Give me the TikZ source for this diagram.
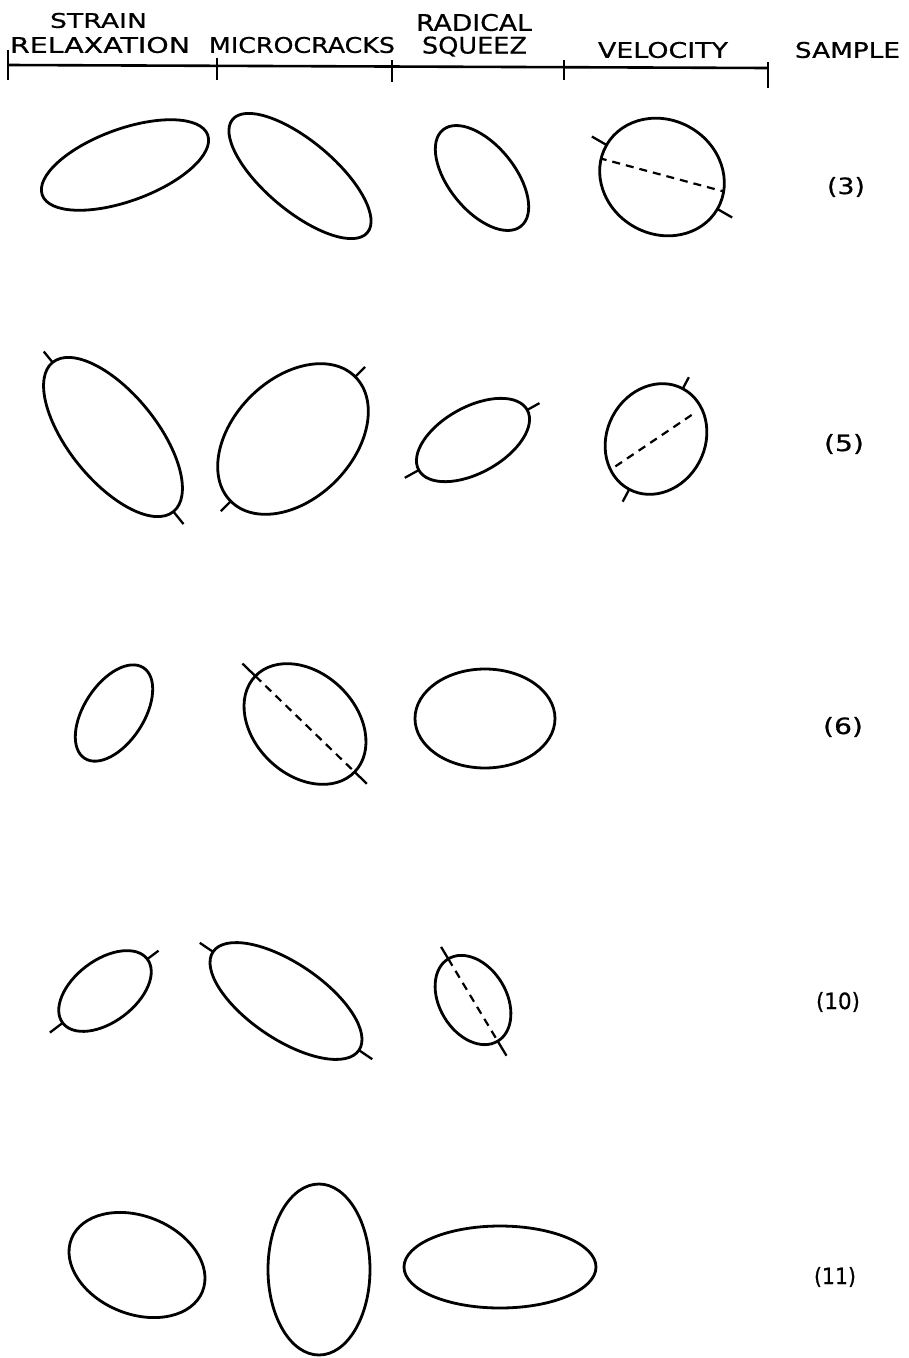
\documentclass[tikz,border=0pt]{standalone}
\usepackage{graphicx}
\usepackage{fontspec}
\setmainfont{DejaVu Sans}[FakeBold=0.6]
\tikzset{
  curve/.style={line width=2.8pt},
  tickline/.style={line width=2.3pt},
  dashline/.style={line width=2.2pt, dash pattern=on 8pt off 6pt},
  hdr/.style={inner sep=0pt, anchor=center},
}
\newcommand\fitword[3]{\resizebox{#1pt}{#2pt}{#3}}
\begin{document}
\begin{tikzpicture}[x=1pt,y=1pt]
\useasboundingbox (0,0) rectangle (909,-1358);
\fill[white] (0,0) rectangle (909,-1358);

% ---------------- header ----------------
\coordinate (hl) at (8,-65);
\coordinate (hr) at (768,-68);
\draw[line width=2.6pt] (hl) -- (hr);
\draw[tickline] (8,-50) -- (8,-80);
\draw[tickline] (217,-58) -- (217,-80);
\draw[tickline] (392,-60) -- (392,-82);
\draw[tickline] (564,-60) -- (564,-80);
\draw[tickline] (768,-62) -- (768,-88);

\node[hdr] (strain) at (98.5,-20.5) {\fitword{97}{15}{STRAIN}};
\node[hdr] (relax)  at (100,-45)    {\fitword{180}{16}{RELAXATION}};
\node[hdr] (micro)  at (302,-45)    {\fitword{186}{16}{MICROCRACKS}};
\node[hdr] (radic)  at (474,-22.5)  {\fitword{116}{17}{RADICAL}};
\node[hdr] (squeez) at (474.5,-46.5){\fitword{105}{17}{SQUEEZ}};
\node[hdr] (veloc)  at (663,-50)    {\fitword{130}{16}{VELOCITY}};
\node[hdr] (sample) at (847.5,-50)  {\fitword{105}{16}{SAMPLE}};

% ---------------- sample labels ----------------
\node[hdr] (s3)  at (846,-187)  {\fitword{38}{17}{(3)}};
\node[hdr] (s5)  at (844,-444)  {\fitword{40}{17}{(5)}};
\node[hdr] (s6)  at (843,-727)  {\fitword{40}{17}{(6)}};
\node[hdr] (s10) at (838,-1002) {\fitword{44}{17}{(10)}};
\node[hdr] (s11) at (835,-1277) {\fitword{42}{17}{(11)}};

% ---------------- row (3) ----------------
\begin{scope}[shift={(125,-165)},rotate=20]
  \draw[curve] (0,0) ellipse [x radius=88, y radius=36];
\end{scope}
\begin{scope}[shift={(300,-176)},rotate=-40]
  \draw[curve] (0,0) ellipse [x radius=88, y radius=35];
\end{scope}
\begin{scope}[shift={(482,-178)},rotate=-51]
  \draw[curve] (0,0) ellipse [x radius=62, y radius=33];
\end{scope}
\begin{scope}[shift={(662,-177)}]
  \begin{scope}[rotate=-30]
    \draw[curve] (0,0) ellipse [x radius=64, y radius=57];
    \draw[tickline] (64,0) -- (81,0) (-64,0) -- (-81,0);
  \end{scope}
  \begin{scope}
    \clip[rotate=-30] (0,0) ellipse [x radius=64, y radius=57];
    \draw[dashline, rotate=-15] (-80,2) -- (80,2);
  \end{scope}
\end{scope}

% ---------------- row (5) ----------------
\begin{scope}[shift={(113,-437)},rotate=-51]
  \draw[curve] (0,0) ellipse [x radius=96, y radius=44];
  \draw[tickline] (96,0) -- (112,0) (-96,0) -- (-110,0);
\end{scope}
\begin{scope}[shift={(293,-439)},rotate=45]
  \draw[curve] (0,0) ellipse [x radius=88, y radius=60];
  \draw[tickline] (88,0) -- (102,0) (-88,0) -- (-102,0);
\end{scope}
\begin{scope}[shift={(473,-440)},rotate=29]
  \draw[curve] (0,0) ellipse [x radius=62, y radius=33];
  \draw[tickline] (62,0) -- (76,0) (-62,0) -- (-78,0);
\end{scope}
\begin{scope}[shift={(656,-439)}]
  \begin{scope}[rotate=62]
    \draw[curve] (0,0) ellipse [x radius=57, y radius=49];
    \draw[tickline] (57,0) -- (70,0) (-57,0) -- (-71,0);
  \end{scope}
  \draw[dashline, rotate=34] (-49,0) -- (46,0);
\end{scope}

% ---------------- row (6) ----------------
\begin{scope}[shift={(114,-713)},rotate=57]
  \draw[curve] (0,0) ellipse [x radius=54, y radius=30];
\end{scope}
\begin{scope}[shift={(305,-724)},rotate=-44]
  \draw[curve] (0,0) ellipse [x radius=69, y radius=51];
  \draw[tickline] (69,0) -- (86,0) (-69,0) -- (-87,0);
  \draw[dashline] (-69,0) -- (69,0);
\end{scope}
\begin{scope}[shift={(485,-718.5)}]
  \draw[curve] (0,0) ellipse [x radius=70, y radius=49.5];
\end{scope}

% ---------------- row (10) ----------------
\begin{scope}[shift={(105,-991)},rotate=37]
  \draw[curve] (0,0) ellipse [x radius=53, y radius=31];
  \draw[tickline] (53,0) -- (67,0) (-53,0) -- (-69,0);
\end{scope}
\begin{scope}[shift={(286,-1001)},rotate=-34]
  \draw[curve] (0,0) ellipse [x radius=88, y radius=38];
  \draw[tickline] (88,0) -- (104,0) (-88,0) -- (-104,0);
\end{scope}
\begin{scope}[shift={(473,-1000)},rotate=-59]
  \draw[curve] (0,0) ellipse [x radius=48, y radius=33.5];
  \draw[tickline] (48,0) -- (65,0) (-48,0) -- (-62,0);
  \draw[dashline] (-48,0) -- (48,0);
\end{scope}

% ---------------- row (11) ----------------
\begin{scope}[shift={(137,-1265)},rotate=-22]
  \draw[curve] (0,0) ellipse [x radius=70.6, y radius=49];
\end{scope}
\begin{scope}[shift={(319,-1269.5)},rotate=90]
  \draw[curve] (0,0) ellipse [x radius=85.5, y radius=51];
\end{scope}
\begin{scope}[shift={(500,-1267)}]
  \draw[curve] (0,0) ellipse [x radius=96, y radius=41];
\end{scope}
\end{tikzpicture}
\end{document}
